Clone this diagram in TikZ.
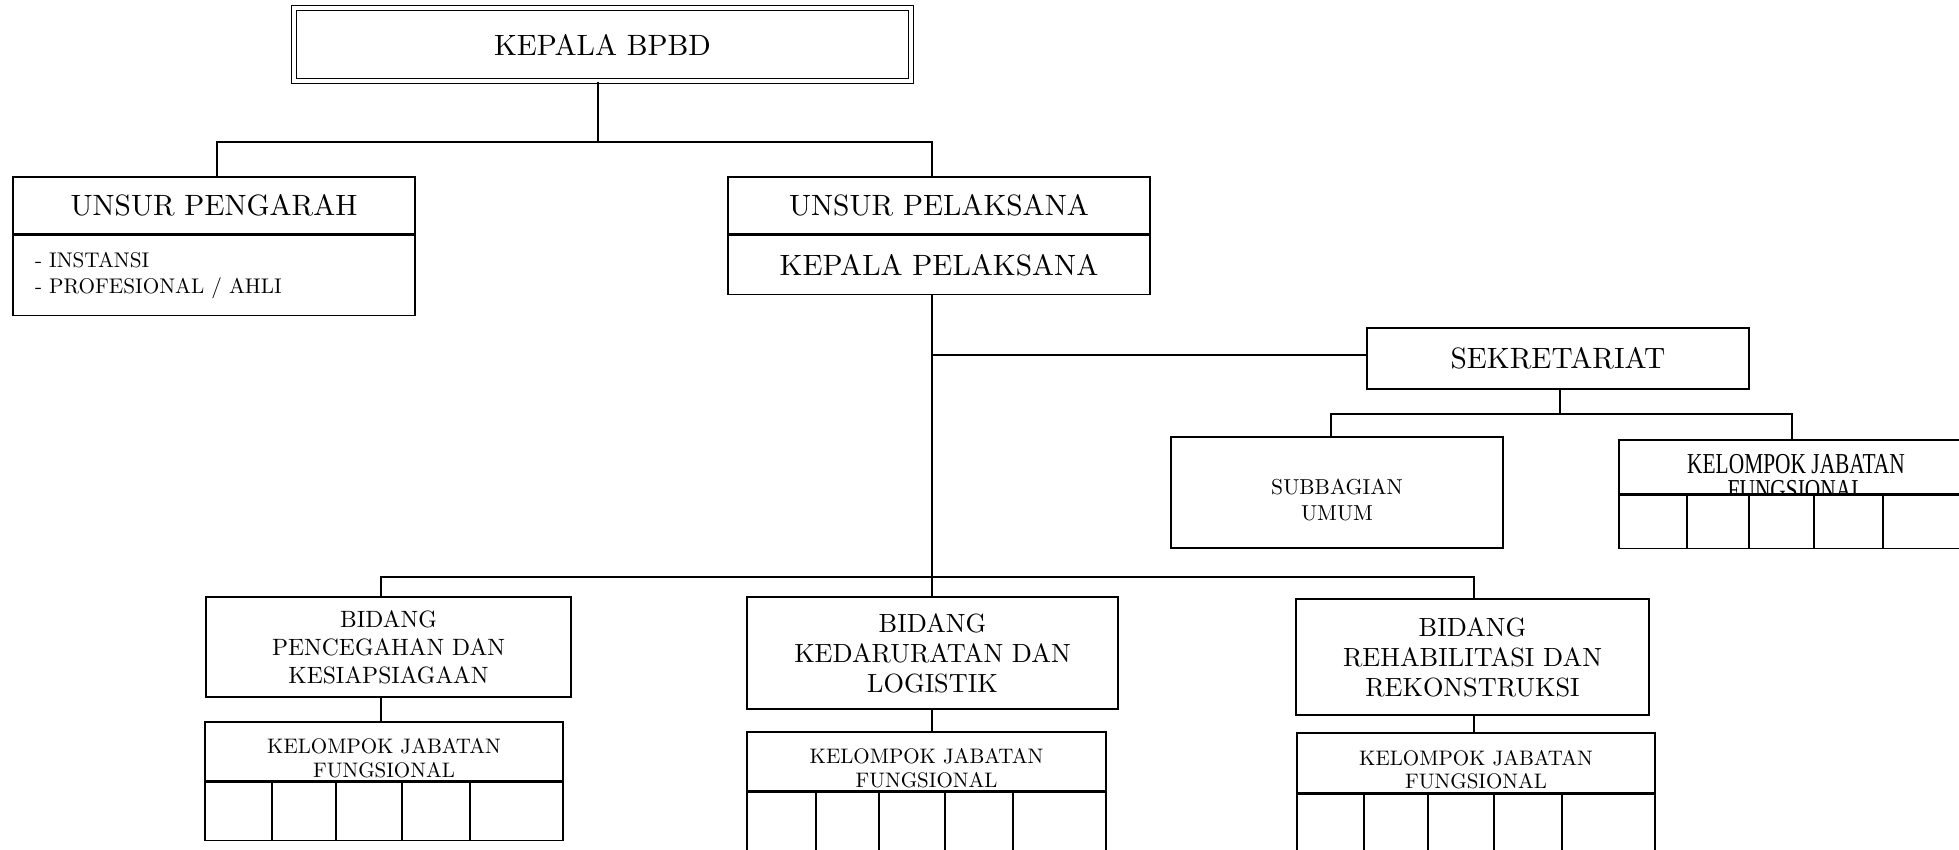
\documentclass[tikz,border=0pt]{standalone}
\usepackage{fontspec}
\usepackage{graphicx}
\usepackage{tikz}
\usetikzlibrary{positioning}
\setmainfont{lmroman10-regular.otf}
\newfontfamily\hurufkjf{Liberation Serif}
\newcommand{\fbesar}{\fontsize{29.4}{34}\selectfont}
\newcommand{\fdaftar}{\fontsize{21.2}{26}\selectfont}
\newcommand{\fbidkecil}{\fontsize{23.6}{28}\selectfont}
\newcommand{\fbid}{\fontsize{26.3}{30}\selectfont}
\newcommand{\fkjf}{\fontsize{21}{23.5}\selectfont}
\newcommand{\fsub}{\fontsize{21.6}{26}\selectfont}
\newcommand{\fkjfkanan}{\hurufkjf\fontsize{21.4}{17}\selectfont}

\begin{document}
\begin{tikzpicture}[x=1pt,y=-1pt,
  kotak/.style={draw,line width=1.6pt,fill=white,inner sep=0pt,align=center},
  garis/.style={line width=2.6pt}]
\useasboundingbox (0,0) rectangle (1959,850);

% kepala dan unsur
\node[kotak,double,double distance=3.2pt,line width=1.4pt,minimum width=617pt,minimum height=73pt,font=\fbesar] (kepala) at (602.5,44.5) {KEPALA BPBD};
\node[kotak,minimum width=402pt,minimum height=57pt,font=\fbesar] (pengarah) at (214,205.5) {UNSUR PENGARAH};
\node[kotak,minimum height=80pt,text width=358pt,inner xsep=22pt,align=left,font=\fdaftar,below=0pt of pengarah] (anggota) {- INSTANSI\\- PROFESIONAL / AHLI};
\node[kotak,minimum width=422pt,minimum height=57pt,font=\fbesar] (pelaksana) at (939,205.5) {UNSUR PELAKSANA};
\node[kotak,minimum width=422pt,minimum height=59pt,font=\fbesar,below=0pt of pelaksana] (kalak) {KEPALA PELAKSANA};

% sekretariat
\node[kotak,minimum width=382pt,minimum height=61pt,font=\fbesar] (sekretariat) at (1558,358.5) {SEKRETARIAT};
\node[kotak,minimum width=332pt,minimum height=111pt] (subbagian) at (1337,492.5) {};
\node[font=\fsub,align=center] (subbagianteks) at (1337,500) {SUBBAGIAN\\UMUM};
\node[kotak,minimum width=356pt,minimum height=54pt] (kjfsek) at (1797,467) {};
\node[font=\fkjfkanan] (kjfsekteks) at (1796,480.6) {\scalebox{1}[1.35]{\begin{tabular}{@{}c@{}}KELOMPOK JABATAN\\FUNGSIONAL\end{tabular}}};
\node[kotak,minimum width=356pt,minimum height=53pt,below=0pt of kjfsek] (selsek) {};
\draw[garis] (selsek.north west) -- (selsek.north east);
\foreach \x in {1687,1749,1814,1883} {\draw[garis] (\x,0 |- selsek.north) -- (\x,0 |- selsek.south);}

% bidang
\node[kotak,minimum width=365pt,minimum height=100pt,font=\fbidkecil] (cegah) at (388.5,647) {BIDANG\\PENCEGAHAN DAN\\KESIAPSIAGAAN};
\node[kotak,minimum width=371pt,minimum height=112pt,font=\fbid] (darurat) at (932.5,653) {BIDANG\\KEDARURATAN DAN\\LOGISTIK};
\node[kotak,minimum width=353pt,minimum height=116pt,font=\fbid] (rehab) at (1472.5,657) {BIDANG\\REHABILITASI DAN\\REKONSTRUKSI};

% kelompok jabatan fungsional tiap bidang
\foreach \nm/\cx/\cy/\w/\h/\hs/\sel in {cegah/384/751.5/358/59/58/{272,336,402,470},
    darurat/926.5/761.5/359/59/70/{816,879,945,1013},
    rehab/1476/763/358/60/70/{1364,1428,1494,1562}}{
  \node[kotak,minimum width=\w pt,minimum height=\h pt] (kjf\nm) at (\cx,\cy) {};
  \node[font=\fkjf,align=center,yshift=-6.5pt] (kjf\nm teks) at (kjf\nm) {KELOMPOK JABATAN\\FUNGSIONAL};
  \node[kotak,minimum width=\w pt,minimum height=\hs pt,below=0pt of kjf\nm] (sel\nm) {};
  \draw[garis] (sel\nm.north west) -- (sel\nm.north east);
  \foreach \x in \sel {\draw[garis] (\x,0 |- sel\nm.north) -- (\x,0 |- sel\nm.south);}
}

% garis
\coordinate (titikatas) at (598,142);
\coordinate (kiri) at (217,142);
\coordinate (tengah) at (932,142);
\draw[garis] (kepala.south -| titikatas) -- (titikatas);
\draw[garis] (kiri |- pengarah.north) -- (kiri) -- (tengah) -- (tengah |- pelaksana.north);
\draw[garis] (tengah |- kalak.south) -- (tengah |- darurat.north);
\coordinate (cabang) at (932,355);
\draw[garis] (cabang) -- (cabang -| sekretariat.west);
\coordinate (seksub) at (1331,414);
\coordinate (sektengah) at (1560,414);
\coordinate (sekkjf) at (1792,414);
\draw[garis] (sektengah |- sekretariat.south) -- (sektengah);
\draw[garis] (seksub |- subbagian.north) -- (seksub) -- (sekkjf) -- (sekkjf |- kjfsek.north);
\coordinate (bidkiri) at (381,577);
\coordinate (bidkanan) at (1474,577);
\draw[garis] (bidkiri |- cegah.north) -- (bidkiri) -- (bidkanan) -- (bidkanan |- rehab.north);
\draw[garis] (bidkiri |- cegah.south) -- (bidkiri |- kjfcegah.north);
\draw[garis] (tengah |- darurat.south) -- (tengah |- kjfdarurat.north);
\draw[garis] (bidkanan |- rehab.south) -- (bidkanan |- kjfrehab.north);
\end{tikzpicture}
\end{document}
